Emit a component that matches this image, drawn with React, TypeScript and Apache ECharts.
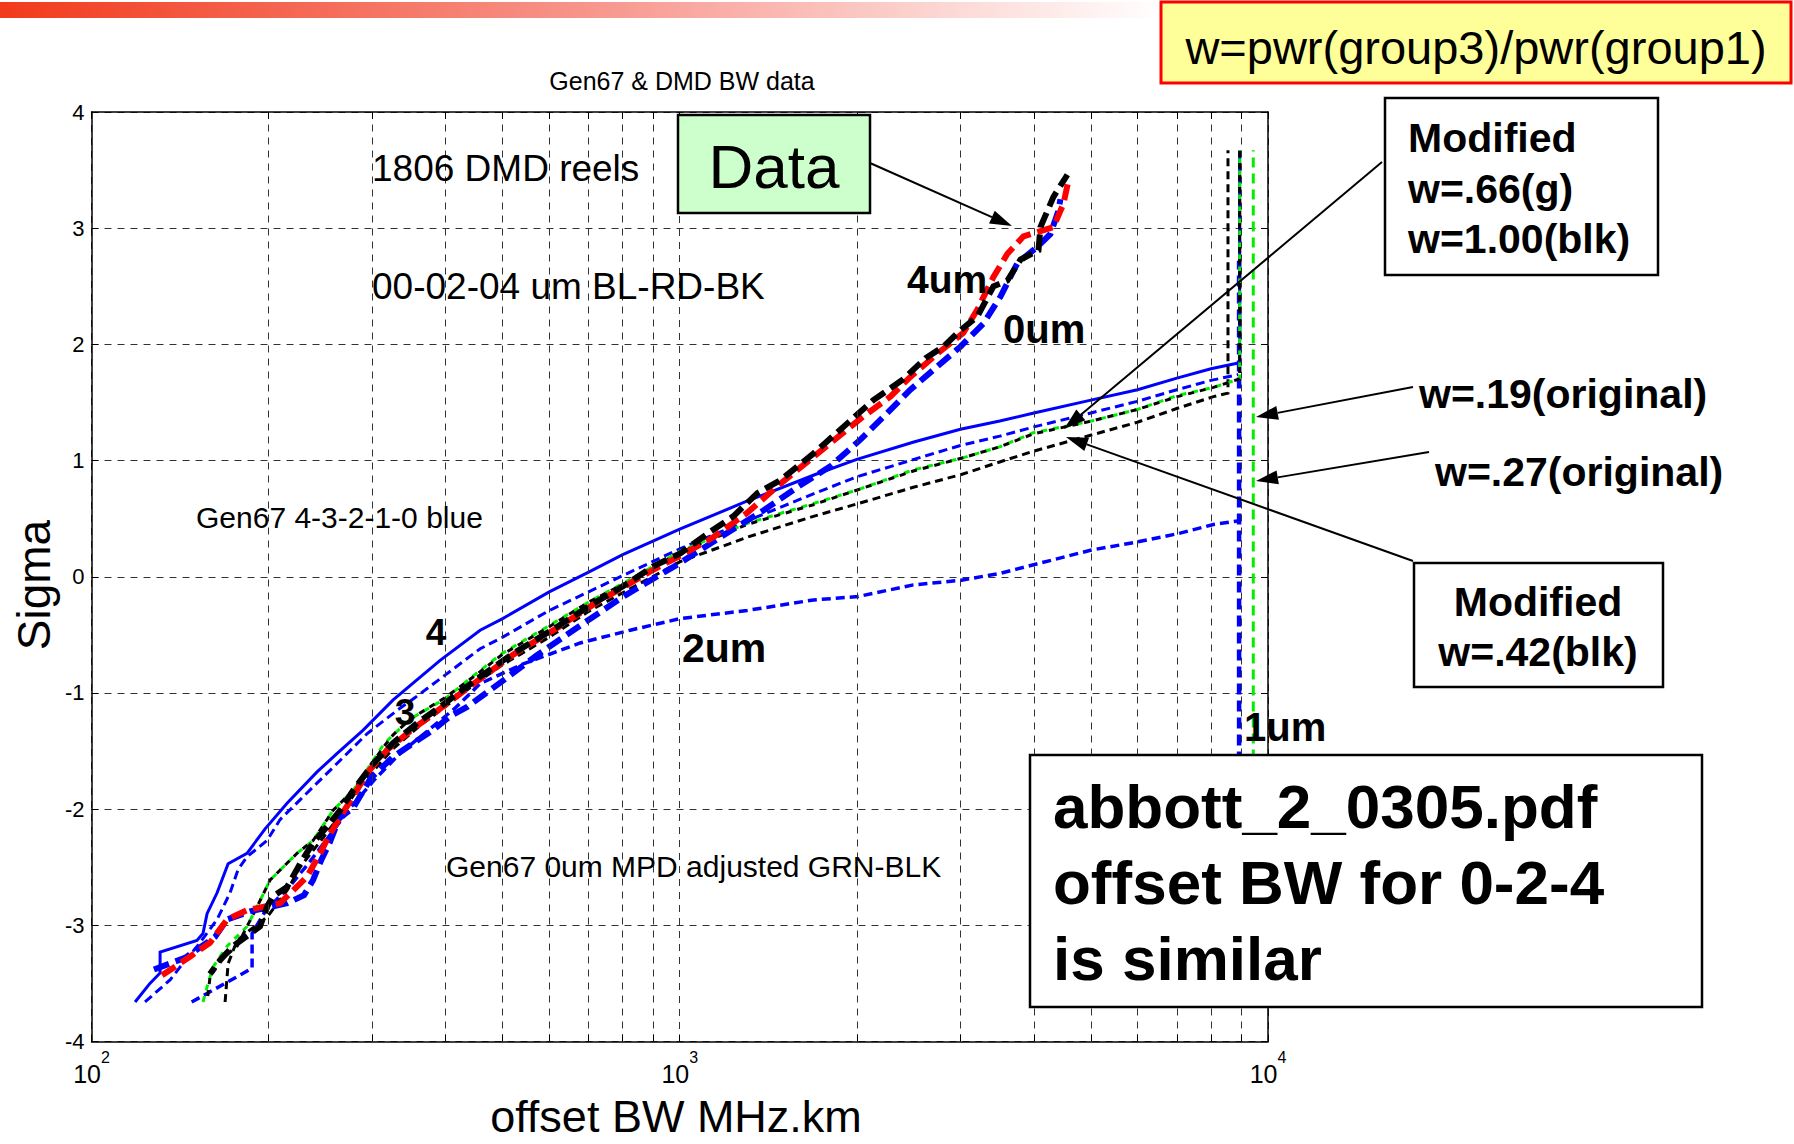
import React, { useEffect, useRef } from "react";
import * as echarts from "echarts";

const FONT = '"Liberation Sans", Arial, Helvetica, sans-serif';

// Each curve: [offset BW (MHz.km), sigma]

// 1806 DMD reels, thick dashed: 00um blue, 02um red, 04um black
const dmdBlue00: number[][] = [
  [127.7, -3.38], [144.2, -3.28], [162.2, -3.1], [170, -2.95], [186, -2.88], [215, -2.81],
  [229.8, -2.74], [238.1, -2.61], [245.7, -2.44], [254.5, -2.28], [263.6, -2.08], [278.4, -1.99],
  [298.7, -1.73], [325.7, -1.55], [357.8, -1.41], [380.8, -1.32], [407.1, -1.2], [435.1, -1.12],
  [505, -0.88], [570.2, -0.68], [677.3, -0.42], [808, -0.16], [1002, 0.12], [1172, 0.34],
  [1387, 0.57], [1584, 0.77], [1803, 0.95], [2028, 1.18], [2254, 1.41], [2466, 1.61],
  [2698, 1.78], [2999, 1.98], [3283, 2.18], [3508, 2.41], [3648, 2.58], [3750, 2.7],
  [4055, 2.84], [4267, 2.95], [4403, 3.15], [4437, 3.25],
];
const dmdRed02: number[][] = [
  [131.8, -3.43], [147, -3.27], [159, -3.15], [170, -2.95], [183.8, -2.87], [209.2, -2.81],
  [220.1, -2.7], [232.6, -2.58], [244.7, -2.38], [254.5, -2.21], [264.6, -2.07], [278.4, -1.89],
  [294.2, -1.69], [318.1, -1.49], [344, -1.35], [380.8, -1.18], [457.8, -0.88], [521.1, -0.67],
  [619, -0.44], [712.8, -0.24], [814.3, -0.07], [901.4, 0.06], [1002, 0.18], [1140, 0.34],
  [1302, 0.55], [1482, 0.8], [1803, 1.15], [2052, 1.38], [2280, 1.55], [2466, 1.72],
  [2741, 1.92], [3035, 2.1], [3206, 2.3], [3414, 2.58], [3606, 2.78], [3840, 2.93],
  [4318, 3.01], [4490, 3.21], [4579, 3.41],
];
const dmdBlack04: number[][] = [
  [159, -3.42], [165.4, -3.3], [174, -3.18], [193.4, -3.01], [198.8, -2.84], [203.5, -2.75],
  [215, -2.67], [226.2, -2.47], [238.1, -2.29], [251.5, -2.15], [264.6, -2.01], [278.4, -1.84],
  [301.1, -1.61], [325.7, -1.43], [357.8, -1.26], [391.4, -1.12], [457.8, -0.86], [521.1, -0.66],
  [619, -0.43], [712.8, -0.23], [814.3, -0.06], [901.4, 0.09], [1002, 0.2], [1114, 0.37],
  [1233, 0.52], [1355, 0.72], [1482, 0.83], [1687, 1.06], [1927, 1.32], [2134, 1.52],
  [2399, 1.7], [2616, 1.88], [2806, 1.98], [2999, 2.12], [3206, 2.24], [3414, 2.5],
  [3606, 2.55], [3795, 2.73], [4072, 2.81], [4104, 3.01], [4318, 3.27], [4560, 3.46],
];

// Gen67 model, blue: offsets 4-3-2-1 um
const gen67Off4: number[][] = [
  [118.6, -3.66], [125.7, -3.5], [130.8, -3.41], [130.8, -3.23], [151.1, -3.13], [154.7, -3.07],
  [157.2, -2.9], [163.5, -2.72], [170.7, -2.47], [183.8, -2.38], [197.3, -2.17], [215, -1.95],
  [241.8, -1.68], [261.6, -1.52], [289.6, -1.32], [325.7, -1.06], [391.4, -0.72], [457.8, -0.46],
  [500, -0.36], [600, -0.13], [700, 0.04], [800, 0.19], [1000, 0.41], [1300, 0.65],
  [1700, 0.88], [2000, 1.01], [2500, 1.16], [3000, 1.27], [3500, 1.34], [4000, 1.41],
  [5000, 1.52], [6000, 1.61], [7000, 1.71], [8000, 1.79], [8900, 1.84], [8950, 1.84], [8950, 3.67],
];
const gen67Off3: number[][] = [
  [123.3, -3.66], [136, -3.47], [141.4, -3.36], [152.9, -3.15], [163.5, -2.95], [172, -2.72],
  [177.5, -2.52], [183.8, -2.41], [198.8, -2.27], [209.2, -2.09], [226.2, -1.92], [257.5, -1.64],
  [294.2, -1.35], [330.8, -1.15], [354.9, -1.04], [457.8, -0.62], [500, -0.52], [600, -0.29],
  [700, -0.13], [800, 0.01], [1000, 0.24], [1300, 0.48], [1700, 0.72], [2000, 0.86],
  [2500, 1.01], [3000, 1.13], [3500, 1.21], [4000, 1.29], [5000, 1.41], [6000, 1.51],
  [7000, 1.61], [8000, 1.69], [8900, 1.74],
];
const gen67Off2: number[][] = [
  [148, -3.66], [187.5, -3.37], [187.5, -3.07], [197.3, -2.88], [217.6, -2.66], [235.3, -2.45],
  [254.5, -2.22], [275.2, -1.99], [303.5, -1.74], [334.7, -1.52], [376.3, -1.31], [415.2, -1.13],
  [457.8, -0.92], [541.9, -0.75], [677.3, -0.57], [823.9, -0.46], [1002, -0.36], [1302, -0.29],
  [1687, -0.2], [2012, -0.17], [2495, -0.07], [3011, -0.03], [3508, 0.03], [5010, 0.23],
  [5998, 0.3], [7015, 0.37], [8078, 0.45], [8880, 0.48],
];
const gen67Off1: number[][] = [[8930, -3.5], [8930, 2.72]];

// Gen67 0um MPD adjusted: green w=.66, black pair
const mpdGreen: number[][] = [
  [154.7, -3.66], [157.2, -3.53], [160.9, -3.36], [170, -3.18], [183.8, -3.01], [191.2, -2.84],
  [201.2, -2.61], [223.6, -2.38], [238.1, -2.27], [257.5, -2.01], [278.4, -1.84], [313.1, -1.45],
  [325.7, -1.36], [349.4, -1.22], [399.2, -1.05], [449, -0.84], [499, -0.66], [600, -0.42],
  [699, -0.22], [798.5, -0.06], [1002, 0.22], [1302, 0.46], [1687, 0.63], [2012, 0.75],
  [2495, 0.92], [3011, 1.02], [3508, 1.12], [3992, 1.24], [5010, 1.34], [5998, 1.44],
  [7015, 1.56], [8078, 1.63], [8910, 1.7], [8950, 1.7], [8950, 3.67],
];
const mpdBlackA: number[][] = [
  [157.2, -3.66], [159, -3.45], [165.4, -3.3], [176.8, -3.18], [183.8, -3.01], [191.2, -2.84],
  [201.2, -2.61], [223.6, -2.38], [238.1, -2.27], [257.5, -2.01], [278.4, -1.84], [313.1, -1.47],
  [325.7, -1.36], [349.4, -1.22], [399.2, -1.04], [449, -0.85], [499, -0.67], [600, -0.43],
  [699, -0.22], [798.5, -0.07], [1002, 0.21], [1302, 0.45], [1687, 0.62], [2012, 0.75],
  [2495, 0.91], [3011, 1.02], [3508, 1.12], [3992, 1.23], [5010, 1.34], [5998, 1.44],
  [7015, 1.55], [8078, 1.63], [8910, 1.7], [8950, 1.7], [8950, 3.67],
];
const mpdBlackB: number[][] = [
  [168.7, -3.66], [170.7, -3.33], [176.8, -3.13], [186, -3.04], [198.8, -2.93], [215, -2.7],
  [226.2, -2.5], [244.7, -2.28], [264.6, -2.05], [286.1, -1.8], [325.7, -1.48], [362, -1.28],
  [399.2, -1.12], [449, -0.92], [499, -0.76], [600, -0.52], [699, -0.3], [798.5, -0.14],
  [1002, 0.13], [1302, 0.34], [1687, 0.52], [2012, 0.63], [2495, 0.77], [3011, 0.88],
  [3508, 0.99], [3992, 1.08], [5010, 1.22], [5998, 1.33], [7015, 1.45], [8078, 1.55],
  [8550, 1.58], [8550, 3.67],
];
// original weighting (w=.19 / w=.27)
const originalGreen: number[][] = [[9440, -3.5], [9440, 3.67]];

// axes
const X_MIN = 100;
const X_MAX = 10000;
const Y_MIN = -4;
const Y_MAX = 4;
const Y_STEP = 1;
const minorGridX = [200, 300, 400, 500, 600, 700, 800, 900, 2000, 3000, 4000, 5000, 6000, 7000, 8000, 9000];
const MINOR_TICK_SIGMA = 0.06;

const GRID_STYLE = { color: "#333", width: 1, type: [7, 6] as number[] };

function arrow(x1: number, y1: number, x2: number, y2: number): any[] {
  const dx = x2 - x1;
  const dy = y2 - y1;
  const len = Math.hypot(dx, dy);
  const ux = dx / len;
  const uy = dy / len;
  const head = 22;
  const half = 7;
  const bx = x2 - ux * head;
  const by = y2 - uy * head;
  return [
    { type: "line", z: 120, shape: { x1, y1, x2: bx, y2: by }, style: { stroke: "#000", lineWidth: 2 } },
    {
      type: "polygon",
      z: 120,
      shape: { points: [[x2, y2], [bx - uy * half, by + ux * half], [bx + uy * half, by - ux * half]] },
      style: { fill: "#000" },
    },
  ];
}

function txt(text: string, x: number, y: number, size: number, opts: any = {}): any {
  return {
    type: "text",
    z: 130,
    x,
    y,
    rotation: opts.rotation || 0,
    style: {
      text,
      fontSize: size,
      fontFamily: FONT,
      fontWeight: opts.bold ? "bold" : "normal",
      fill: "#000",
      align: opts.align || "left",
      verticalAlign: "middle",
    },
  };
}

function box(x: number, y: number, w: number, h: number, fill: string, stroke = "#000", lw = 2.5): any {
  return { type: "rect", z: 110, shape: { x, y, width: w, height: h }, style: { fill, stroke, lineWidth: lw } };
}

function curve(name: string, data: number[][], color: string, width: number, dash: any, dashOffset = 0): any {
  return {
    type: "line",
    name,
    data,
    symbol: "none",
    showSymbol: false,
    silent: true,
    z: 3,
    lineStyle: { color, width, type: dash, dashOffset, cap: "butt", join: "miter" },
  };
}

export default function App() {
  const ref = useRef<HTMLDivElement>(null);

  useEffect(() => {
    if (!ref.current) return;
    const chart = echarts.init(ref.current, undefined, { renderer: "svg" });

    const axisLine = { show: true, onZero: false, lineStyle: { color: "#000", width: 1.5 } };
    const tick = { show: true, inside: true, length: 7, lineStyle: { color: "#000", width: 1 } };

    const graphics: any[] = [
      {
        type: "rect",
        z: 100,
        shape: { x: 0, y: 2, width: 1162, height: 16 },
        style: {
          fill: new echarts.graphic.LinearGradient(0, 0, 1, 0, [
            { offset: 0, color: "#f23a1c" },
            { offset: 0.5, color: "#f7948a" },
            { offset: 1, color: "#ffffff" },
          ]),
        },
      },
      box(1161, 2, 630, 81, "#ffff99", "#ff0000", 3),
      txt("w=pwr(group3)/pwr(group1)", 1476, 47, 47, { align: "center" }),
      txt("Gen67 & DMD BW data", 682, 81, 25, { align: "center" }),
      txt("Sigma", 34, 585, 46, { align: "center", rotation: Math.PI / 2 }),
      txt("offset BW MHz.km", 676, 1116, 45, { align: "center" }),

      box(678, 115, 192, 98, "#ccffcc"),
      txt("Data", 774, 166, 62, { align: "center" }),
      ...arrow(870, 163, 1012, 226),

      txt("1806 DMD reels", 372, 168, 37),
      txt("00-02-04 um BL-RD-BK", 372, 286, 37),
      txt("Gen67 4-3-2-1-0 blue", 196, 517, 30),
      txt("Gen67 0um MPD adjusted GRN-BLK", 446, 866, 30),
      txt("4um", 907, 279, 39, { bold: true }),
      txt("0um", 1003, 329, 40, { bold: true }),
      txt("4", 436, 632, 37, { bold: true, align: "center" }),
      txt("3", 405, 712, 37, { bold: true, align: "center" }),
      txt("2um", 682, 648, 41, { bold: true }),
      txt("1um", 1244, 727, 40, { bold: true }),

      box(1385, 98, 273, 177, "#ffffff"),
      txt("Modified", 1408, 138, 41, { bold: true }),
      txt("w=.66(g)", 1408, 189, 41, { bold: true }),
      txt("w=1.00(blk)", 1408, 239, 41, { bold: true }),
      ...arrow(1382, 162, 1064, 429),

      txt("w=.19(original)", 1419, 394, 41, { bold: true }),
      ...arrow(1413, 387, 1256, 417),
      txt("w=.27(original)", 1435, 472, 41, { bold: true }),
      ...arrow(1429, 452, 1256, 481),

      box(1414, 563, 249, 124, "#ffffff"),
      txt("Modified", 1538, 602, 41, { bold: true, align: "center" }),
      txt("w=.42(blk)", 1538, 652, 41, { bold: true, align: "center" }),
      ...arrow(1413, 561, 1066, 437),

      box(1030, 755, 672, 252, "#ffffff"),
      txt("abbott_2_0305.pdf", 1053, 806, 62, { bold: true }),
      txt("offset BW for 0-2-4", 1053, 882, 62, { bold: true }),
      txt("is similar", 1053, 958, 62, { bold: true }),
    ];

    // short inward ticks at the minor decade positions, bottom and top frame
    const minorTicks: any[] = [];
    minorGridX.forEach((v) => {
      minorTicks.push([{ coord: [v, Y_MIN] }, { coord: [v, Y_MIN + MINOR_TICK_SIGMA] }]);
      minorTicks.push([{ coord: [v, Y_MAX] }, { coord: [v, Y_MAX - MINOR_TICK_SIGMA] }]);
    });

    chart.setOption({
      animation: false,
      backgroundColor: "#ffffff",
      grid: { left: 91.5, top: 112, width: 1176.5, height: 929.5, containLabel: false },
      xAxis: [
        {
          type: "log",
          logBase: 10,
          min: X_MIN,
          max: X_MAX,
          axisLine,
          axisTick: tick,
          axisLabel: {
            margin: 8,
            formatter: (v: number) => `{b|10}{s|${Math.round(Math.log10(v))}}`,
            rich: {
              b: { fontSize: 25, fontFamily: FONT, color: "#000", padding: [12, 0, 0, 0] },
              s: { fontSize: 16, fontFamily: FONT, color: "#000", verticalAlign: "top" },
            },
          },
          splitLine: { show: true, lineStyle: GRID_STYLE },
        },
        {
          type: "log",
          logBase: 10,
          position: "top",
          min: X_MIN,
          max: X_MAX,
          axisLine,
          axisTick: tick,
          axisLabel: { show: false },
          splitLine: { show: false },
        },
      ],
      yAxis: [
        {
          type: "value",
          min: Y_MIN,
          max: Y_MAX,
          interval: Y_STEP,
          axisLine,
          axisTick: tick,
          axisLabel: { fontSize: 22, fontFamily: FONT, color: "#000", margin: 7 },
          splitLine: { show: true, lineStyle: GRID_STYLE },
        },
        {
          type: "value",
          position: "right",
          min: Y_MIN,
          max: Y_MAX,
          interval: Y_STEP,
          axisLine,
          axisTick: tick,
          axisLabel: { show: false },
          splitLine: { show: false },
        },
      ],
      series: [
        {
          type: "line",
          name: "grid",
          data: [],
          silent: true,
          z: 1,
          markLine: {
            silent: true,
            symbol: ["none", "none"],
            label: { show: false },
            lineStyle: GRID_STYLE,
            data: minorGridX.map((v) => ({ xAxis: v })),
          },
        },
        {
          type: "line",
          name: "minor ticks",
          data: [],
          silent: true,
          z: 1,
          markLine: {
            silent: true,
            symbol: ["none", "none"],
            label: { show: false },
            lineStyle: { color: "#000", width: 1, type: "solid" },
            data: minorTicks,
          },
        },
        curve("Gen67 1um", gen67Off1, "#0000ff", 4.5, [11, 6]),
        curve("original", originalGreen, "#00ee00", 3, [10, 6]),
        curve("Gen67 2um", gen67Off2, "#0000ff", 3.5, [9, 5]),
        curve("Gen67 3um", gen67Off3, "#0000ff", 3, [9, 5]),
        curve("Gen67 4um", gen67Off4, "#0000ff", 3, "solid"),
        curve("MPD blk w=1.00", mpdBlackB, "#000000", 3, [8, 5]),
        curve("MPD grn w=.66", mpdGreen, "#00ee00", 3, [6, 6]),
        curve("MPD blk w=.42", mpdBlackA, "#000000", 3, [6, 6], 6),
        curve("DMD 00um", dmdBlue00, "#0000ff", 6, [16, 7]),
        curve("DMD 02um", dmdRed02, "#ff0000", 6, [16, 7]),
        curve("DMD 04um", dmdBlack04, "#000000", 6, [16, 7], 8),
      ],
      graphic: graphics,
    });

    return () => chart.dispose();
  }, []);

  return (
    <div
      ref={ref}
      style={{ position: "fixed", left: 0, top: 0, width: 1794, height: 1144, background: "#fff" }}
    />
  );
}
